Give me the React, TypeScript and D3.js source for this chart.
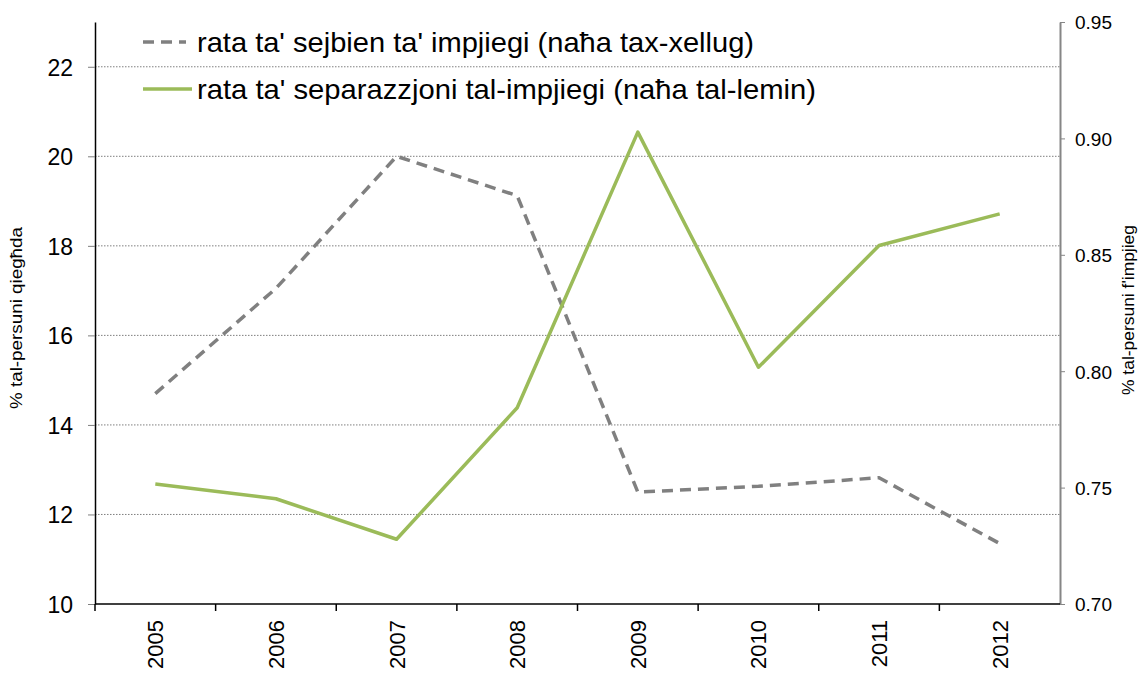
import React, { useRef, useEffect } from "react";
import * as d3 from "d3";

const years = ["2005", "2006", "2007", "2008", "2009", "2010", "2011", "2012"];
// left axis: job finding rate (%)
const findingRate = [14.7, 17.05, 20.0, 19.12, 12.5, 12.63, 12.82, 11.35];
// right axis: job separation rate (%)
const separationRate = [0.7515, 0.7452, 0.7278, 0.7843, 0.9027, 0.8017, 0.854, 0.8676];
const leftTicks = [10, 12, 14, 16, 18, 20, 22];
const rightTicks = [0.7, 0.75, 0.8, 0.85, 0.9, 0.95];
const legendLabels = [
  "rata ta' sejbien ta' impjiegi (naħa tax-xellug)",
  "rata ta' separazzjoni tal-impjiegi (naħa tal-lemin)",
];

const App = () => {
  const svgRef = useRef<SVGSVGElement>(null);
  const width = 1140;
  const height = 675;
  const margin = { top: 22, right: 80, bottom: 71, left: 95 };
  const font = "'Liberation Sans', Arial, sans-serif";

  useEffect(() => {
    const svg = d3.select(svgRef.current);
    svg.selectAll("*").remove();

    const x = d3
      .scaleBand()
      .domain(years)
      .range([margin.left, width - margin.right]);
    const yL = d3.scaleLinear().domain([10, 23]).range([height - margin.bottom, margin.top]);
    const yR = d3.scaleLinear().domain([0.7, 0.95]).range([height - margin.bottom, margin.top]);
    const cx = (d: string) => (x(d) as number) + x.bandwidth() / 2;

    // gridlines
    svg
      .append("g")
      .selectAll("line")
      .data(leftTicks.filter((t) => t > 10))
      .enter()
      .append("line")
      .attr("x1", margin.left)
      .attr("x2", width - margin.right)
      .attr("y1", (d) => yL(d))
      .attr("y2", (d) => yL(d))
      .attr("stroke", "#7f7f7f")
      .attr("stroke-width", 1)
      .attr("stroke-dasharray", "1.5,1.5");

    // left axis
    const gL = svg
      .append("g")
      .attr("transform", `translate(${margin.left},0)`)
      .call(d3.axisLeft(yL).tickValues(leftTicks).tickSize(7).tickSizeOuter(0));
    gL.select(".domain").attr("stroke", "#000").attr("stroke-width", 1.5);
    gL.selectAll(".tick line").attr("stroke", "#7f7f7f");
    gL.selectAll(".tick text")
      .attr("x", -22)
      .attr("dy", "0.36em")
      .style("font-family", font)
      .style("font-size", "23px")
      .attr("fill", "#000");

    // right axis
    const gR = svg
      .append("g")
      .attr("transform", `translate(${width - margin.right},0)`)
      .call(
        d3
          .axisRight(yR)
          .tickValues(rightTicks)
          .tickSize(5)
          .tickSizeOuter(0)
          .tickFormat(d3.format(".2f"))
      );
    gR.select(".domain").attr("stroke", "#868686").attr("stroke-width", 2);
    gR.selectAll(".tick line").attr("stroke", "#868686");
    gR.selectAll(".tick text")
      .attr("x", 15)
      .attr("dy", "0.36em")
      .style("font-family", font)
      .style("font-size", "19px")
      .attr("fill", "#000");

    // x axis
    const gX = svg.append("g").attr("transform", `translate(0,${height - margin.bottom})`);
    gX.append("line")
      .attr("x1", margin.left)
      .attr("x2", width - margin.right)
      .attr("stroke", "#000")
      .attr("stroke-width", 1.5);
    gX.selectAll(".xtick")
      .data(years)
      .enter()
      .append("line")
      .attr("x1", (d) => x(d) as number)
      .attr("x2", (d) => x(d) as number)
      .attr("y1", 0)
      .attr("y2", 7)
      .attr("stroke", "#000")
      .attr("stroke-width", 1.5);
    gX.selectAll(".xlabel")
      .data(years)
      .enter()
      .append("text")
      .attr("transform", (d) => `translate(${cx(d) + 8},16) rotate(-90)`)
      .attr("text-anchor", "end")
      .style("font-family", font)
      .style("font-size", "22px")
      .attr("fill", "#000")
      .text((d) => d);

    // axis titles
    svg
      .append("text")
      .attr("transform", `translate(22,318) rotate(-90)`)
      .attr("text-anchor", "middle")
      .style("font-family", font)
      .style("font-size", "16px")
      .attr("textLength", 182)
      .attr("lengthAdjust", "spacingAndGlyphs")
      .text("% tal-persuni qiegħda");
    svg
      .append("text")
      .attr("transform", `translate(1134,310) rotate(-90)`)
      .attr("text-anchor", "middle")
      .style("font-family", font)
      .style("font-size", "16px")
      .attr("textLength", 170)
      .attr("lengthAdjust", "spacingAndGlyphs")
      .text("% tal-persuni f'impjieg");

    // lines
    const lineL = d3
      .line<number>()
      .x((d, i) => cx(years[i]))
      .y((d) => yL(d));
    const lineR = d3
      .line<number>()
      .x((d, i) => cx(years[i]))
      .y((d) => yR(d));

    svg
      .append("path")
      .datum(findingRate)
      .attr("d", lineL)
      .attr("fill", "none")
      .attr("stroke", "#808080")
      .attr("stroke-width", 3.5)
      .attr("stroke-dasharray", "11,7");

    svg
      .append("path")
      .datum(separationRate)
      .attr("d", lineR)
      .attr("fill", "none")
      .attr("stroke", "#9bbb59")
      .attr("stroke-width", 3.5)
      .attr("stroke-linejoin", "round");

    // legend
    const legend = svg.append("g");
    const styles = [
      { stroke: "#808080", dash: "11,7", x2: 186, len: 557 },
      { stroke: "#9bbb59", dash: null, x2: 192, len: 619 },
    ];
    legendLabels.forEach((label, i) => {
      const yy = 42 + i * 47;
      legend
        .append("line")
        .attr("x1", 143)
        .attr("x2", styles[i].x2)
        .attr("y1", yy)
        .attr("y2", yy)
        .attr("stroke", styles[i].stroke)
        .attr("stroke-width", 3.5)
        .attr("stroke-dasharray", styles[i].dash);
      legend
        .append("text")
        .attr("x", 197)
        .attr("y", yy + 10)
        .style("font-family", font)
        .style("font-size", "28px")
        .attr("textLength", styles[i].len)
        .attr("lengthAdjust", "spacingAndGlyphs")
        .attr("fill", "#000")
        .text(label);
    });
  }, []);

  return (
    <svg
      ref={svgRef}
      width={width}
      height={height}
      style={{ position: "absolute", left: 0, top: 0, background: "#fff" }}
    />
  );
};

export default App;
